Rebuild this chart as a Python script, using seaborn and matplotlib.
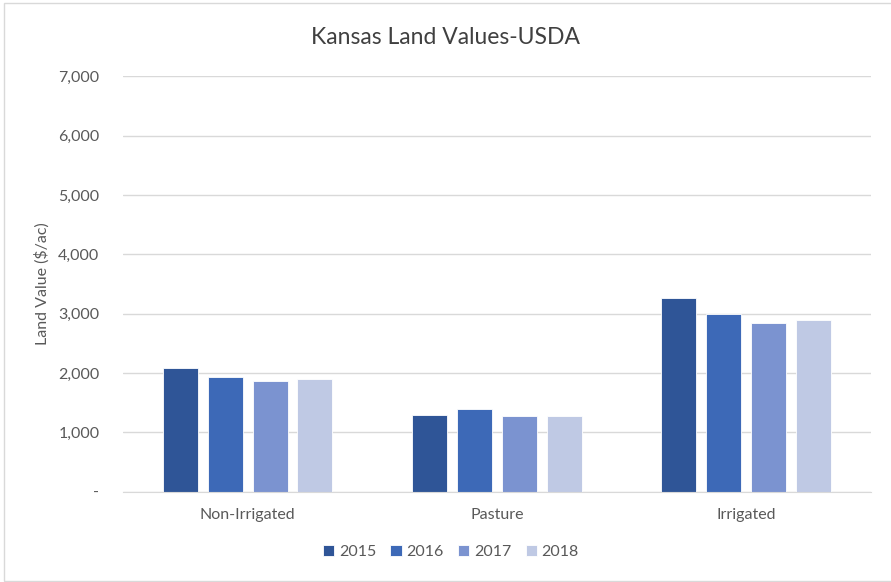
import pandas as pd
import matplotlib.pyplot as plt
import seaborn as sns
from matplotlib.patches import Rectangle
from matplotlib.ticker import FuncFormatter

# ==========================
# Dados
# ==========================
categorias = ["Non-Irrigated", "Pasture", "Irrigated"]
anos = ["2015", "2016", "2017", "2018"]
valores_2015 = [2080, 1290, 3260]
valores_2016 = [1930, 1400, 3000]
valores_2017 = [1870, 1270, 2850]
valores_2018 = [1900, 1270, 2890]
cores = ["#2F5597", "#3D69B7", "#7B93D0", "#BFC9E4"]

df = pd.DataFrame({
    "Categoria": categorias * 4,
    "Ano": [a for a in anos for _ in categorias],
    "Valor": valores_2015 + valores_2016 + valores_2017 + valores_2018,
})

# ==========================
# Gráfico
# ==========================
sns.set_style("white")
plt.rcParams["font.family"] = ["Lato", "DejaVu Sans"]

fig = plt.figure(figsize=(8.91, 5.82), dpi=100)
ax = fig.add_axes([0.138, 0.155, 0.8395, 0.714])

sns.barplot(data=df, x="Categoria", y="Valor", hue="Ano",
            palette=cores, saturation=1, width=0.72, gap=0.22,
            edgecolor="white", linewidth=0.6, ax=ax, legend=True)

ax.set_ylim(0, 7000)
ax.set_xlim(-0.5, 2.5)
ax.set_yticks(range(0, 7001, 1000))
ax.yaxis.set_major_formatter(FuncFormatter(lambda v, p: "-" if v == 0 else f"{int(v):,}"))
ax.grid(axis="y", color="#D9D9D9", linewidth=1)
ax.set_axisbelow(True)
for s in ["top", "right", "left"]:
    ax.spines[s].set_visible(False)
ax.spines["bottom"].set_color("#D9D9D9")
ax.tick_params(axis="y", length=0, pad=17, labelsize=11.5, labelcolor="#595959")
ax.tick_params(axis="x", length=0, pad=12, labelsize=11.5, labelcolor="#595959")
ax.set_xlabel("")
ax.set_ylabel("Land Value ($/ac)", fontsize=11.5, color="#595959", labelpad=6)

handles, labels = ax.get_legend_handles_labels()
ax.get_legend().remove()
fig.legend(handles, labels, loc="center", bbox_to_anchor=(0.506, 0.052),
           ncol=4, frameon=False, fontsize=11.5, labelcolor="#595959",
           handlelength=0.7, handleheight=0.7, handletextpad=0.3,
           columnspacing=0.9)

fig.text(0.5, 0.935, "Kansas Land Values-USDA", ha="center", va="center",
         fontsize=16.5, color="#404040")

fig.patches.append(Rectangle((0.004, 0.002), 1.2, 0.992, transform=fig.transFigure,
                             fill=False, edgecolor="#D9D9D9", linewidth=1))

plt.savefig("out.png", dpi=100)
